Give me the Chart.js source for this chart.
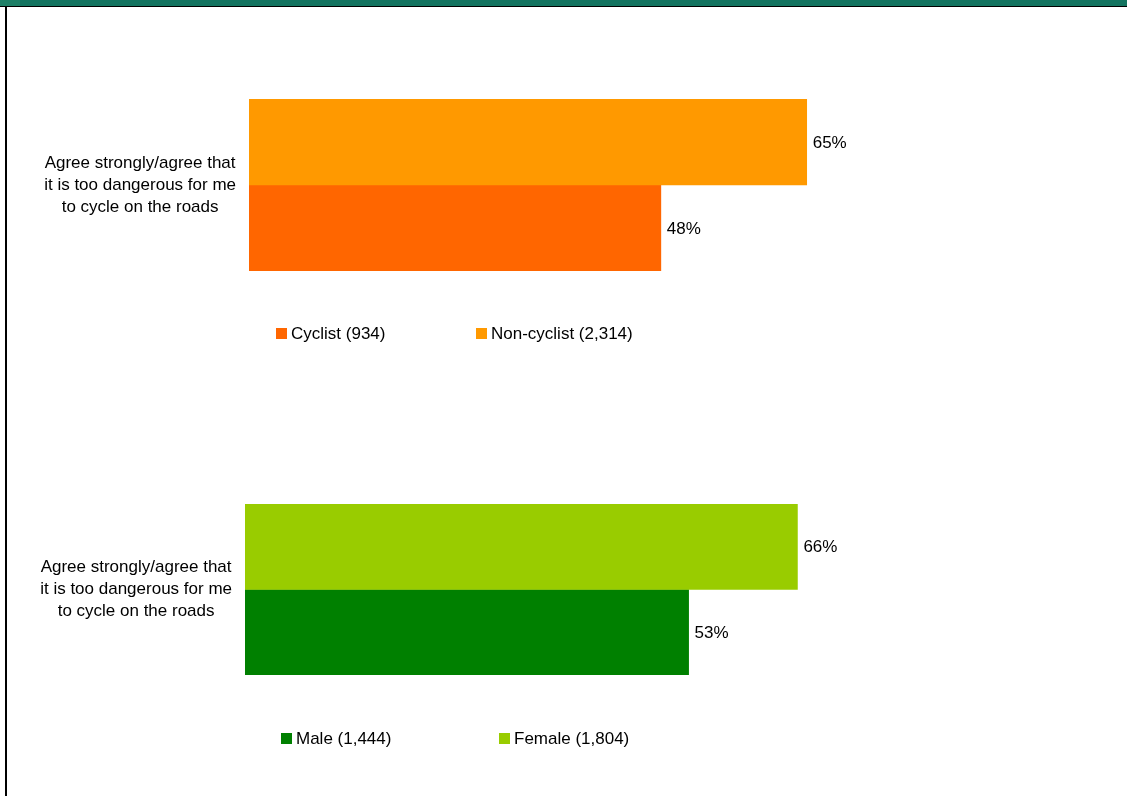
<!DOCTYPE html>
<html>
<head>
<meta charset="utf-8">
<script src="https://cdn.jsdelivr.net/npm/chart.js@4"></script>
<style>
  body { margin: 0; background: #fff; width: 1127px; height: 796px; overflow: hidden; position: relative; font-family: Arial, "Liberation Sans", sans-serif; }
  #band { position: absolute; left: 0; top: 0; width: 1127px; height: 6px; background: #137460; border-bottom: 1px solid #000; }
  #band .lt { position: absolute; left: 0; top: 0; width: 20px; height: 6px; background: #1d7f66; }
  #leftline { position: absolute; left: 5px; top: 7px; width: 2px; height: 789px; background: #000; }
  .box { position: absolute; left: 0; }
  .legend { position: absolute; font-size: 17px; color: #000; white-space: nowrap; }
  .legend span.sw { position: absolute; width: 11px; height: 11px; }
  .legend span.tx { position: absolute; line-height: 17px; }
</style>
</head>
<body>
<div id="band"><div class="lt"></div></div>
<div id="leftline"></div>
<div class="box" style="top:0"><canvas id="c1" width="1127" height="400"></canvas></div>
<div class="box" style="top:400px"><canvas id="c2" width="1127" height="396"></canvas></div>
<div id="lg1"></div>
<div id="lg2"></div>
<script>
var categories = [['Agree strongly/agree that', 'it is too dangerous for me', 'to cycle on the roads']];

// chart 1: cyclists vs non-cyclists
var cyclistLabel = 'Cyclist (934)';
var nonCyclistLabel = 'Non-cyclist (2,314)';
var cyclistValues = [48];
var nonCyclistValues = [65];

// chart 2: gender
var maleLabel = 'Male (1,444)';
var femaleLabel = 'Female (1,804)';
var maleValues = [53];
var femaleValues = [66];

var labelPlugin = {
  id: 'valueLabels',
  afterDatasetsDraw: function(chart) {
    var c = chart.ctx;
    c.save();
    c.font = '17px Arial, "Liberation Sans", sans-serif';
    c.fillStyle = '#000';
    c.textBaseline = 'middle';
    c.textAlign = 'left';
    chart.data.datasets.forEach(function(ds, i) {
      chart.getDatasetMeta(i).data.forEach(function(bar, j) {
        c.fillText(ds.data[j] + '%', bar.x + 6, bar.y + 1);
      });
    });
    c.restore();
  }
};

function makeChart(id, sets, axisWidth, pad) {
  return new Chart(document.getElementById(id), {
    type: 'bar',
    data: {
      labels: categories,
      datasets: sets.map(function(s) {
        return { label: s.label, data: s.data, backgroundColor: s.color, borderWidth: 0,
                 categoryPercentage: 1, barPercentage: 1 };
      })
    },
    options: {
      indexAxis: 'y',
      responsive: false,
      animation: false,
      layout: { padding: pad },
      plugins: { legend: { display: false }, tooltip: { enabled: false } },
      scales: {
        x: { display: false, min: 0, max: 100 },
        y: {
          grid: { display: false, drawTicks: false },
          border: { display: false },
          afterFit: function(scale) { scale.width = axisWidth; },
          ticks: {
            crossAlign: 'center',
            padding: 13,
            color: '#000',
            font: { family: 'Arial, "Liberation Sans", sans-serif', size: 17, lineHeight: 1.294 }
          }
        }
      }
    },
    plugins: [labelPlugin]
  });
}

// dataset order: first drawn on top
makeChart('c1', [
  { label: nonCyclistLabel, data: nonCyclistValues, color: '#FF9900' },
  { label: cyclistLabel, data: cyclistValues, color: '#FF6600' }
], 249, { top: 99, bottom: 129, left: 0, right: 20 });

makeChart('c2', [
  { label: femaleLabel, data: femaleValues, color: '#99CC00' },
  { label: maleLabel, data: maleValues, color: '#008000' }
], 245, { top: 104, bottom: 121, left: 0, right: 45 });

function makeLegend(id, items, top) {
  var el = document.getElementById(id);
  items.forEach(function(it) {
    var d = document.createElement('div');
    d.className = 'legend';
    d.style.left = it.x + 'px';
    d.style.top = top + 'px';
    d.innerHTML = '<span class="sw" style="left:0;top:0;background:' + it.color + '"></span>' +
      '<span class="tx" style="left:' + it.gap + 'px;top:-3px">' + it.label + '</span>';
    el.appendChild(d);
  });
}

makeLegend('lg1', [
  { label: cyclistLabel, color: '#FF6600', x: 276, gap: 15 },
  { label: nonCyclistLabel, color: '#FF9900', x: 476, gap: 15 }
], 328);

makeLegend('lg2', [
  { label: maleLabel, color: '#008000', x: 281, gap: 15 },
  { label: femaleLabel, color: '#99CC00', x: 499, gap: 15 }
], 733);
</script>
</body>
</html>
